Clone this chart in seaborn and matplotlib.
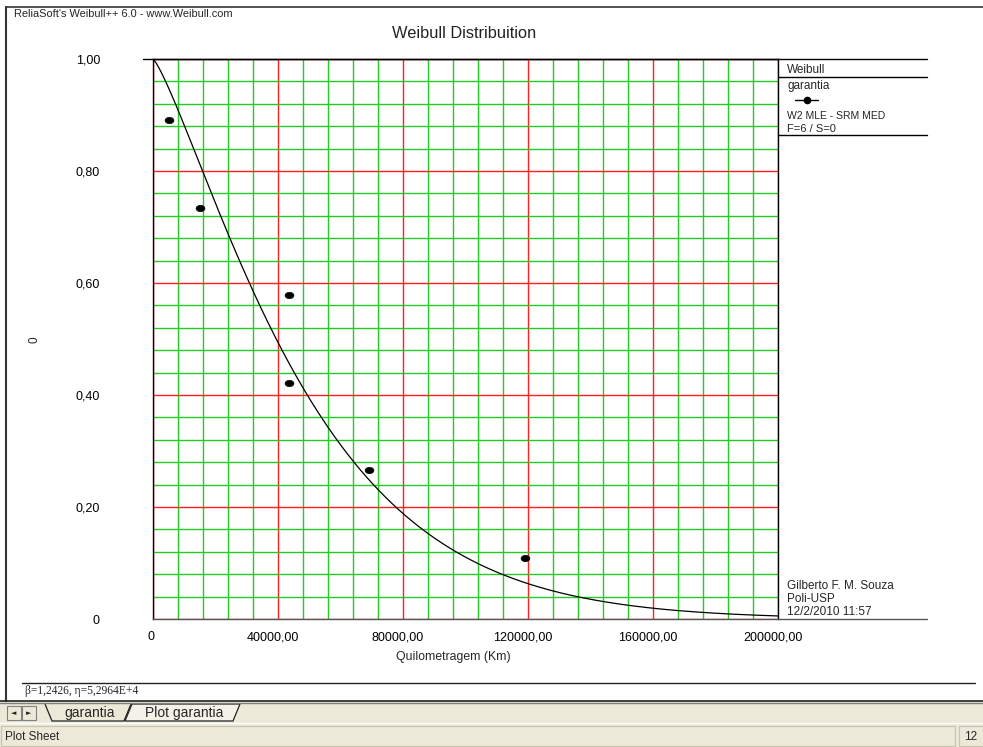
import numpy as np
import pandas as pd
import matplotlib
matplotlib.use("Agg")
import matplotlib.pyplot as plt
import seaborn as sns
from matplotlib.lines import Line2D
from matplotlib.patches import Rectangle, Polygon
from matplotlib.path import Path
from matplotlib.ticker import MultipleLocator, FuncFormatter
from matplotlib.transforms import Affine2D, ScaledTranslation

# Failure data (km) and median-rank reliability estimates
km = [5000, 15000, 43500, 43500, 69000, 119000]
reliability = [0.891, 0.734, 0.578, 0.422, 0.266, 0.109]

# Fitted 2-parameter Weibull (MLE)
beta = 1.2426
eta = 5.2964e4

x_ticks = [0, 40000, 80000, 120000, 160000, 200000]
y_ticks = [0, 0.2, 0.4, 0.6, 0.8, 1.0]

W, H = 983, 747
sns.set_style("white")
plt.rcParams["font.family"] = ["Liberation Sans", "DejaVu Sans"]

fig = plt.figure(figsize=(W / 100, H / 100), dpi=100)
fig.patch.set_facecolor("white")


def fx(px):
    return px / W


def fy(py):
    return 1 - py / H


def hline(y, x0, x1, color="black", lw=1.0):
    fig.add_artist(Line2D([fx(x0), fx(x1)], [fy(y), fy(y)], color=color, lw=lw,
                          transform=fig.transFigure))


def vline(x, y0, y1, color="black", lw=1.0):
    fig.add_artist(Line2D([fx(x), fx(x)], [fy(y0), fy(y1)], color=color, lw=lw,
                          transform=fig.transFigure))


ax = fig.add_axes([fx(153), fy(619), (778 - 153) / W, (619 - 59) / H])

# Reliability curve of the fitted model
t = np.linspace(0, 200000, 600)
curve = pd.DataFrame({"t": t, "R": np.exp(-(t / eta) ** beta)})
sns.lineplot(data=curve, x="t", y="R", color="black", lw=0.9, ax=ax, zorder=3)

# Data points as small flat ellipses
ell = Path.unit_circle().transformed(Affine2D().scale(1.0, 0.72))
pts = pd.DataFrame({"km": km, "R": reliability})
sns.scatterplot(data=pts, x="km", y="R", marker=ell, s=40, color="black",
                edgecolor="black", linewidth=0.5, ax=ax, zorder=4)

ax.set_xlim(0, 200000)
ax.set_ylim(0, 1)
ax.set_xticks(x_ticks)
ax.set_yticks(y_ticks)
ax.xaxis.set_minor_locator(MultipleLocator(8000))
ax.yaxis.set_minor_locator(MultipleLocator(0.04))
ax.set_axisbelow(True)
ax.grid(which="minor", color="#22cc22", lw=1.0)
ax.grid(which="major", color="#ff2020", lw=1.0)

fmt = FuncFormatter(lambda v, p: "0" if v == 0 else f"{v:.2f}".replace(".", ","))
ax.xaxis.set_major_formatter(fmt)
ax.yaxis.set_major_formatter(fmt)

ax.tick_params(axis="x", which="major", length=5.8, width=1.0, color="#ff2020",
               pad=3, labelsize=9, labelcolor="black")
ax.tick_params(axis="y", which="major", length=7.2, width=1.0, color="#ff2020",
               pad=31, labelsize=9, labelcolor="black")
ax.tick_params(which="minor", length=0)
for tk in (ax.xaxis.get_major_ticks()[0], ax.xaxis.get_major_ticks()[-1]):
    tk.tick1line.set_color("black")
for tk in (ax.yaxis.get_major_ticks()[0], ax.yaxis.get_major_ticks()[-1]):
    tk.tick1line.set_color("#444444")

# x tick labels sit slightly left of their ticks
for i, lab in enumerate(ax.get_xticklabels()):
    shift = -2 if i == 0 else -5
    lab.set_transform(lab.get_transform() +
                      ScaledTranslation(shift / 100, 0, fig.dpi_scale_trans))

for s in ax.spines.values():
    s.set_visible(True)
    s.set_color("black")
    s.set_linewidth(1.0)
ax.spines["bottom"].set_color("#555555")
ax.set_xlabel("")
ax.set_ylabel("")

# Titles and axis labels
fig.text(fx(464), fy(33), "Weibull Distribuition", ha="center", va="center",
         fontsize=11.8, color="#222222")
fig.text(fx(453), fy(657), "Quilometragem (Km)", ha="center", va="center", fontsize=8.8)
fig.text(fx(35), fy(340), "0", ha="center", va="center", rotation=90, fontsize=8.5)
fig.text(fx(14), fy(14), "ReliaSoft's Weibull++ 6.0 - www.Weibull.com", ha="left",
         va="center", fontsize=7.9)

# Legend panel on the right
hline(59, 143, 927)
hline(77, 778, 927)
hline(135, 778, 927)
hline(619, 778, 927, color="#555555")
fig.text(fx(787), fy(70), "Weibull", ha="left", va="center", fontsize=8.5)
fig.text(fx(787), fy(86), "garantia", ha="left", va="center", fontsize=8.5)
fig.add_artist(Line2D([fx(795), fx(818)], [fy(100), fy(100)], color="black", lw=1,
                      transform=fig.transFigure))
fig.add_artist(Line2D([fx(806.5)], [fy(100)], marker="o", ms=4.5, color="black",
                      transform=fig.transFigure))
fig.text(fx(787), fy(116), "W2 MLE - SRM MED", ha="left", va="center", fontsize=7.5)
fig.text(fx(787), fy(129), "F=6 / S=0", ha="left", va="center", fontsize=8)
fig.text(fx(787), fy(586), "Gilberto F. M. Souza", ha="left", va="center", fontsize=8.5)
fig.text(fx(787), fy(599), "Poli-USP", ha="left", va="center", fontsize=8.5)
fig.text(fx(787), fy(612), "12/2/2010 11:57", ha="left", va="center", fontsize=8.5)

# Window frame
hline(7, 6, 983, color="#333333", lw=1.2)
vline(6, 7, 701, color="#333333", lw=1.5)
hline(683, 22, 975, color="#222222", lw=1.0)
fig.text(fx(25), fy(691), "β=1,2426, η=5,2964E+4", ha="left", va="center",
         fontsize=8.3, family=["Liberation Serif", "DejaVu Serif"])

# Sheet tabs bar and status bar
bg = "#ece9d8"
fig.add_artist(Rectangle((0, fy(747)), 1, fy(701) - fy(747), transform=fig.transFigure,
                         facecolor=bg, edgecolor="none"))
hline(701, 0, 983, color="#222222", lw=1.2)
hline(703, 0, 983, color="#808080", lw=1.0)
hline(723, 0, 983, color="#ffffff", lw=1.0)
for x0, glyph in ((7, "◄"), (22, "►")):
    fig.add_artist(Rectangle((fx(x0), fy(720)), fx(14), fy(706) - fy(720),
                             transform=fig.transFigure, facecolor=bg,
                             edgecolor="#808080", lw=0.8))
    fig.text(fx(x0 + 7), fy(713), glyph, ha="center", va="center", fontsize=5,
             family=["DejaVu Sans"])
fig.add_artist(Polygon([[fx(45), fy(704)], [fx(52), fy(721)], [fx(124), fy(721)],
                        [fx(131), fy(704)]], closed=False, transform=fig.transFigure,
                       facecolor="none", edgecolor="#222222", lw=0.9))
fig.text(fx(90), fy(713), "garantia", ha="center", va="center", fontsize=10)
fig.add_artist(Polygon([[fx(125), fy(721)], [fx(132), fy(704)], [fx(240), fy(704)],
                        [fx(233), fy(721)]], closed=True, transform=fig.transFigure,
                       facecolor="#f4f2e8", edgecolor="#222222", lw=0.9))
fig.text(fx(184), fy(713), "Plot garantia", ha="center", va="center", fontsize=10)
fig.add_artist(Rectangle((fx(1), fy(746)), fx(954), fy(726) - fy(746),
                         transform=fig.transFigure, facecolor=bg,
                         edgecolor="#c8c4b0", lw=0.8))
fig.add_artist(Rectangle((fx(959), fy(746)), fx(30), fy(726) - fy(746),
                         transform=fig.transFigure, facecolor=bg,
                         edgecolor="#c8c4b0", lw=0.8))
fig.text(fx(5), fy(737), "Plot Sheet", ha="left", va="center", fontsize=8.5)
fig.text(fx(964), fy(737), "12", ha="left", va="center", fontsize=8.5)

fig.savefig("out.png", dpi=100)
